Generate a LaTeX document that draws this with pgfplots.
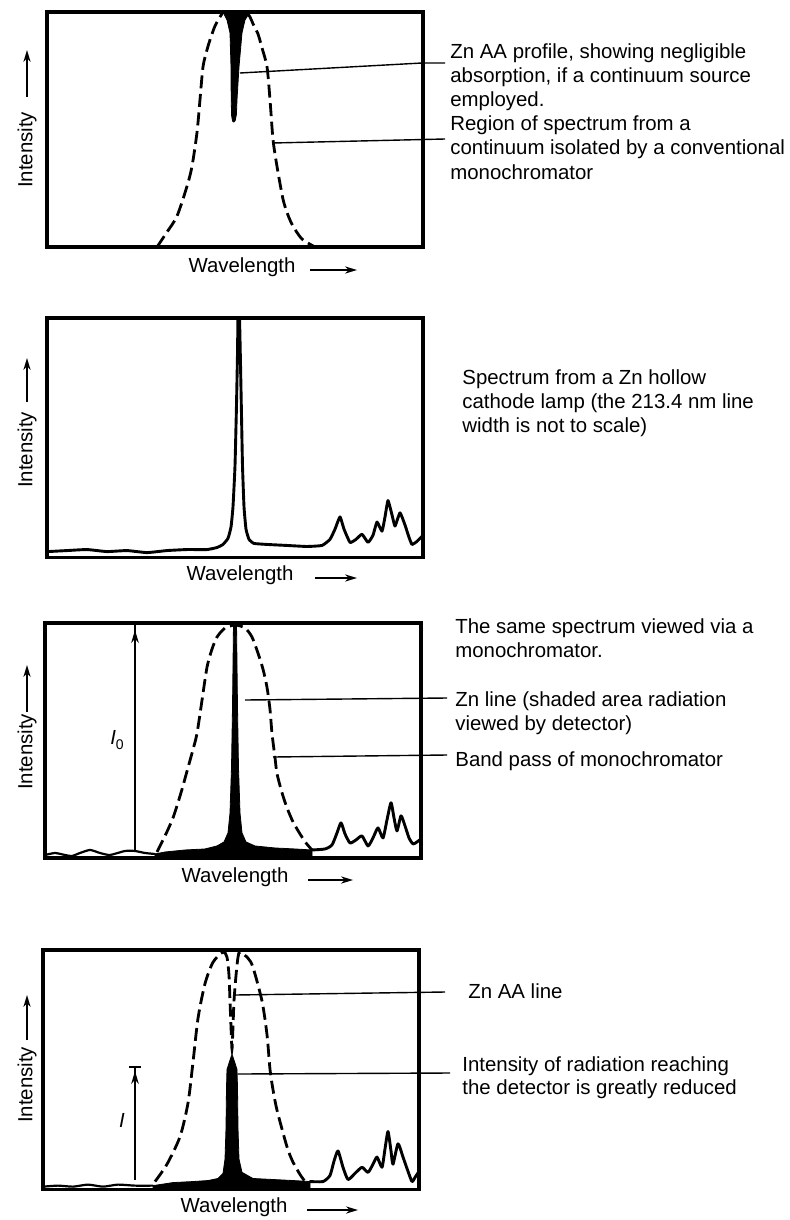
\documentclass[border=0pt]{standalone}
\usepackage{pgfplots}
\pgfplotsset{compat=1.18}
\usepackage{fontspec}
\setmainfont{Liberation Sans}
\usetikzlibrary{arrows.meta}
\pgfplotsset{
  panel/.style={
    anchor=north west, scale only axis, width=188pt, height=117.5pt,
    xmin=0, xmax=376, ymin=0, ymax=235,
    xtick=\empty, ytick=\empty,
    axis line style={line width=1.55pt},
  },
  spec/.style={line width=1.45pt, line join=round, line cap=round, black, smooth, tension=0.35},
  band/.style={line width=1.4pt, dash pattern=on 6.5pt off 2.8pt, black, smooth, tension=0.45},
}
\begin{document}
\begin{tikzpicture}
\path[use as bounding box] (0,0) rectangle (395pt,-610pt);
% ---------- Panel 1 ----------
\begin{axis}[panel, at={(23.5pt,-6pt)}, ymax=236]
\addplot[band] coordinates {(110,0) (120,15) (130,31) (140,61) (145,81) (150,115) (153,148) (156,181) (160,198) (163,208) (168,222) (173,231) (176,236) (188,244) (200,236) (203,231) (207,222) (211,214) (215,200) (220,181) (223,148) (226,108) (230,81) (236,48) (241,32) (246,21) (255,8) (268,0)};
\addplot[fill=black, draw=black, line width=0.4pt] coordinates {(176,236) (180,228) (183,215) (184,181) (184.2,148) (184.6,132) (185.5,126.5) (186.8,125.5) (188.2,127) (189.4,133) (190,148) (192,181) (195,215) (198,228) (203,236)} -- cycle;
\end{axis}
% ---------- Panel 2 ----------
\begin{axis}[panel, at={(23.5pt,-159pt)}]
\addplot[spec, tension=0.25] coordinates {(1,6) (20,7) (40,8) (60,6) (80,7) (100,5) (120,7) (140,8) (160,8) (170,10) (176,13) (181,19) (184,30) (186,50) (188,90) (189.5,150) (190.5,200) (191,235) (192.5,235) (193.5,190) (194.5,140) (195.5,90) (197,50) (199,28) (202,18) (207,14) (220,13) (240,12) (260,11) (275,12) (283,18) (288,28) (293,40) (297,28) (303,15) (309,18) (315,23) (321,15) (326,22) (330,35) (335,26) (338,40) (341,56) (345,42) (348,31) (353,44) (358,32) (362,20) (365,13) (370,16) (375,21)};
\end{axis}
% ---------- Panel 3 ----------
\begin{axis}[panel, at={(22.5pt,-311.5pt)}, ymax=234]
\addplot[band] coordinates {(112,6) (120,22) (128,40) (136,65) (143,90) (148,108) (152,124) (157,157) (162,190) (167,208) (172,220) (180,229) (190,232) (200,229) (207,220) (213,204) (218,188) (222,170) (225,148) (227,124) (230,100) (232,84) (237,65) (242,50) (248,36) (255,24) (261,15) (267,8)};
\addplot[spec, line width=1.1pt] coordinates {(0,3) (10,5) (20,3) (27,2) (35,5) (45,8) (55,5) (65,3) (80,7) (90,7) (100,5) (110,4)};
\addplot[fill=black, draw=black, line width=0.4pt] coordinates {(110,0) (110,4) (120,6) (140,8) (160,9) (172,12) (179,16) (183,25) (185,45) (186.5,90) (187.5,150) (188.5,234) (191.5,234) (192.5,150) (193.5,90) (195,45) (197,25) (201,16) (210,12) (230,10) (250,9) (267,8) (267,0)} -- cycle;
\addplot[spec] coordinates {(267,8) (280,9) (287,13) (292,25) (296,35) (300,24) (305,15) (311,18) (317,22) (323,12) (328,20) (333,30) (338,20) (342,38) (346,55) (349,40) (352,27) (356,42) (360,32) (364,20) (368,14) (372,16) (376,19)};
\end{axis}
% ---------- Panel 4 ----------
\begin{axis}[panel, at={(21.5pt,-475pt)}]
\addplot[band] coordinates {(112,8) (124,25) (137,52) (145,85) (150,125) (155,168) (162,202) (170,223) (180,233) (184,228) (186,210) (187,185) (188,160) (189,138) (190,160) (191,185) (193,210) (195,228) (197,233) (205,227) (210,218) (219,185) (224,152) (227,118) (230,98) (234,78) (244,42) (250,27) (257,15) (262,8)};
\addplot[spec, line width=1.1pt] coordinates {(0,3) (15,4) (30,3) (45,5) (60,3) (75,5) (92,4) (110,4)};
\addplot[fill=black, draw=black, line width=0.4pt] coordinates {(110,0) (110,4) (130,7) (150,8) (165,9) (175,11) (180,16) (182,30) (183,60) (183.5,100) (184,118) (186,124) (188,130) (189,132) (190,130) (192,124) (194,118) (194.5,100) (195,60) (196,30) (199,17) (210,11) (230,10) (250,9) (267,8) (267,0)} -- cycle;
\addplot[spec] coordinates {(267,8) (280,8) (287,14) (291,28) (295,38) (300,22) (305,10) (312,16) (319,22) (325,17) (330,25) (334,32) (339,22) (342,40) (345,57) (348,38) (350,25) (355,45) (360,32) (365,18) (369,8) (372,12) (376,18)};
\end{axis}
% ---------- annotations ----------
\begin{scope}[x=0.5pt, y=-0.5pt, every node/.style={font=\fontsize{10.2}{12}\selectfont, inner sep=0pt}]
 % axis labels
 \foreach \yc/\ya/\yb in {150/97/50, 450/402/358, 752/712/665, 1085/1040/995} {
   \node[rotate=90] at (27,\yc) {Intensity};
   \draw[line width=0.9pt, -{Stealth[length=6pt,width=3.6pt]}] (27,\ya) -- (27,\yb);
 }
 \foreach \xc/\yc/\xa/\xb in {242/267/310/357, 240/575/315/357, 235/877/308/353, 234/1207/307/358} {
   \node at (\xc,\yc) {Wavelength};
   \draw[line width=0.9pt, -{Stealth[length=6pt,width=3.6pt]}] (\xa,\yc+3) -- (\xb,\yc+3);
 }
 % panel 1 text
 \draw[line width=0.7pt] (240,73) -- (422,63) -- (445,63);
 \draw[line width=0.7pt] (273,143) -- (445,139);
 \node[anchor=base west] at (450,59) {Zn AA profile, showing negligible};
 \node[anchor=base west] at (450,83) {absorption, if a continuum source};
 \node[anchor=base west] at (450,107) {employed.};
 \node[anchor=base west] at (450,131) {Region of spectrum from a};
 \node[anchor=base west] at (450,155) {continuum isolated by a conventional};
 \node[anchor=base west] at (450,179) {monochromator};
 % panel 2 text
 \node[anchor=base west] at (462,384) {Spectrum from a Zn hollow};
 \node[anchor=base west] at (462,408) {cathode lamp (the 213.4 nm line};
 \node[anchor=base west] at (462,432) {width is not to scale)};
 % panel 3 text
 \draw[line width=0.7pt] (245,700) -- (447,698);
 \draw[line width=0.7pt] (273,757) -- (447,755);
 \node[anchor=base west] at (455,633) {The same spectrum viewed via a};
 \node[anchor=base west] at (455,657) {monochromator.};
 \node[anchor=base west] at (455,706) {Zn line (shaded area radiation};
 \node[anchor=base west] at (455,730) {viewed by detector)};
 \node[anchor=base west] at (455,766) {Band pass of monochromator};
 \draw[line width=0.8pt] (135,850) -- (135,623);
 \draw[line width=0.8pt, -{Stealth[length=6.5pt,width=3.8pt]}] (135,700) -- (135,630);
 \node at (117,740) {\textit{I}\raisebox{-0.45ex}{\fontsize{7}{8}\selectfont 0}};
 % panel 4 text
 \draw[line width=0.7pt] (235,995) -- (445,992);
 \draw[line width=0.7pt] (238,1074) -- (450,1073);
 \node[anchor=base west] at (468,998) {Zn AA line};
 \node[anchor=base west] at (462,1071) {Intensity of radiation reaching};
 \node[anchor=base west] at (462,1094) {the detector is greatly reduced};
 \draw[line width=0.8pt] (135,1180) -- (135,1067);
 \draw[line width=1pt] (129,1067) -- (141,1067);
 \draw[line width=0.8pt, -{Stealth[length=6.5pt,width=3.8pt]}] (135,1110) -- (135,1071);
 \node at (122,1120) {\textit{I}};
\end{scope}
\end{tikzpicture}
\end{document}
